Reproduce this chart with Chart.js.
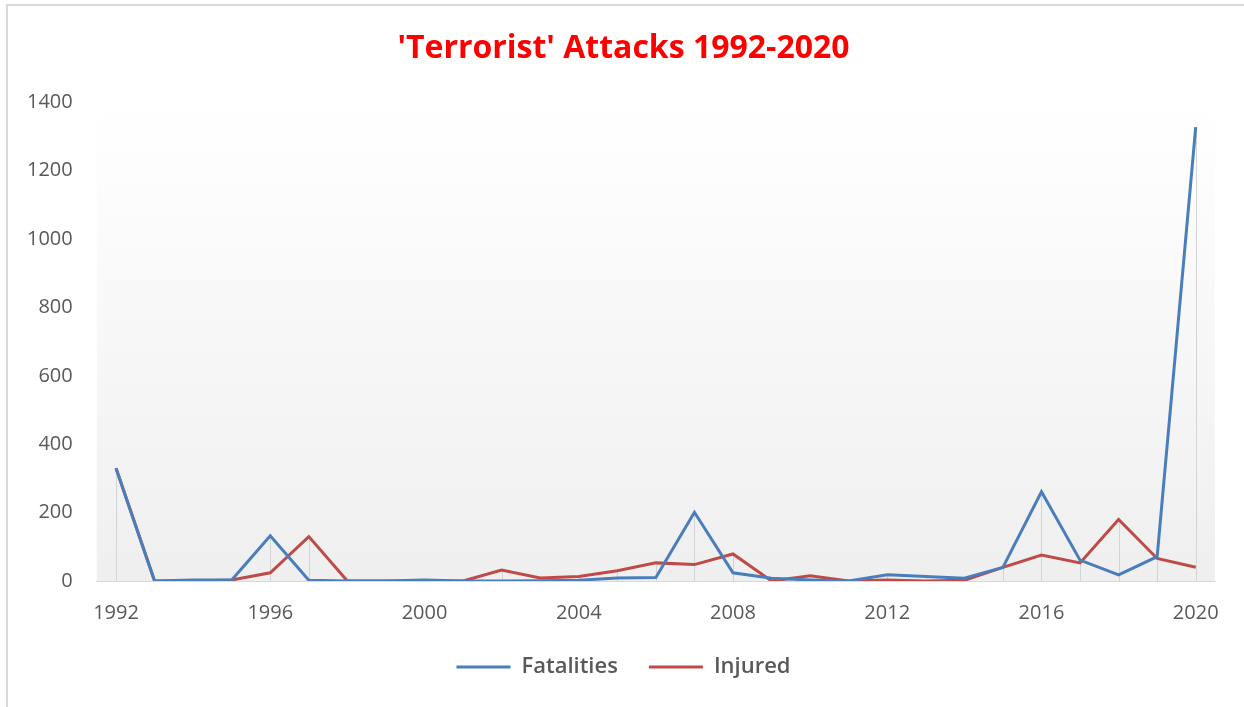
<!DOCTYPE html>
<html>
<head>
<meta charset="utf-8">
<script src="https://cdn.jsdelivr.net/npm/chart.js@4/dist/chart.umd.min.js"></script>
<style>
  html, body { margin: 0; padding: 0; background: #fff; }
  #wrap { position: relative; width: 1244px; height: 707px; overflow: hidden; }
  #frame { position: absolute; left: 6px; top: 4px; width: 1300px; height: 800px;
           border-left: 2px solid #d9d9d9; border-top: 2px solid #d9d9d9; pointer-events: none; }
  canvas { position: absolute; left: 0; top: 0; }
</style>
</head>
<body>
<div id="wrap">
  <canvas id="myChart" width="1244" height="707"></canvas>
  <div id="frame"></div>
</div>
<script>
const years = [1992, 1993, 1994, 1995, 1996, 1997, 1998, 1999, 2000, 2001,
               2002, 2003, 2004, 2005, 2006, 2007, 2008, 2009, 2010, 2011,
               2012, 2013, 2014, 2015, 2016, 2017, 2018, 2019, 2020]
const fatalities = [330, 0, 3, 3, 132, 2, 0, 0, 3, 0,
                    0, 1, 2, 9, 10, 201, 24, 8, 3, 0,
                    18, 13, 8, 40, 261, 61, 18, 71, 1328]
const injured = [330, 0, 0, 3, 24, 130, 0, 0, 0, 0,
                 32, 9, 13, 30, 53, 48, 79, 0, 15, 0,
                 3, 0, 2, 40, 76, 53, 180, 66, 40]
const yTicks = [0, 200, 400, 600, 800, 1000, 1200, 1400]
const shownYears = [1992, 1996, 2000, 2004, 2008, 2012, 2016, 2020]

// plot area gradient + drop lines from the highest point down to the axis
const plotBackground = {
  id: 'plotBackground',
  beforeDraw(chart) {
    const {ctx, chartArea} = chart
    const g = ctx.createLinearGradient(0, chartArea.top, 0, chartArea.bottom)
    g.addColorStop(0, '#ffffff')
    g.addColorStop(1, '#efefef')
    ctx.save()
    ctx.fillStyle = g
    ctx.fillRect(chartArea.left, chartArea.top, chartArea.width, chartArea.height)
    ctx.restore()
  },
  beforeDatasetsDraw(chart) {
    const {ctx, chartArea} = chart
    const metas = chart.getSortedVisibleDatasetMetas()
    ctx.save()
    ctx.strokeStyle = '#d4d4d4'
    ctx.lineWidth = 1
    years.forEach((y, i) => {
      let top = chartArea.bottom
      metas.forEach(m => { top = Math.min(top, m.data[i].y) })
      if (top < chartArea.bottom - 1) {
        const x = Math.round(metas[0].data[i].x) + 0.5
        ctx.beginPath()
        ctx.moveTo(x, top)
        ctx.lineTo(x, chartArea.bottom)
        ctx.stroke()
      }
    })
    ctx.restore()
  }
}

const ctx = document.getElementById('myChart')
new Chart(ctx, {
  type: 'line',
  data: {
    labels: years,
    datasets: [{
      label: 'Fatalities',
      data: fatalities,
      borderColor: '#4a7ebb',
      backgroundColor: '#4a7ebb',
      borderWidth: 3,
      pointRadius: 0,
      tension: 0
    }, {
      label: 'Injured',
      data: injured,
      borderColor: '#be4b48',
      backgroundColor: '#be4b48',
      borderWidth: 3,
      pointRadius: 0,
      tension: 0
    }]
  },
  options: {
    responsive: false,
    animation: false,
    layout: { padding: { left: 3, right: 0, top: 0, bottom: 19 } },
    plugins: {
      title: {
        display: true,
        text: "'Terrorist' Attacks 1992-2020",
        color: '#ff0000',
        font: { family: 'Open Sans', size: 32, weight: 'bold' },
        padding: { top: 30, bottom: 34 }
      },
      legend: {
        position: 'bottom',
        labels: {
          boxWidth: 54,
          boxHeight: 0,
          padding: 31,
          color: '#595959',
          font: { family: 'Open Sans', size: 22, weight: '600' }
        }
      },
      tooltip: { enabled: false }
    },
    scales: {
      x: {
        offset: true,
        grid: { display: true, drawOnChartArea: false, drawTicks: true, tickLength: 20, tickColor: 'rgba(0,0,0,0)' },
        border: { display: true, color: '#d9d9d9', width: 1 },
        ticks: {
          autoSkip: false,
          maxRotation: 0,
          padding: 0,
          color: '#595959',
          font: { family: 'Open Sans', size: 20 },
          callback: function (v, i) {
            return shownYears.includes(years[i]) ? String(years[i]) : ''
          }
        }
      },
      y: {
        min: 0,
        max: 1400,
        afterBuildTicks: axis => { axis.ticks = yTicks.map(v => ({ value: v })) },
        grid: { display: false, drawTicks: false },
        border: { display: false },
        ticks: {
          padding: 24,
          color: '#595959',
          font: { family: 'Open Sans', size: 20 },
          callback: v => String(v)
        }
      },
      // empty right-hand strip so that title and legend centre on the whole picture
      y2: {
        position: 'right',
        grid: { display: false },
        border: { display: false },
        ticks: { display: false },
        afterFit: s => { s.width = 29 }
      }
    }
  },
  plugins: [plotBackground]
})
</script>
</body>
</html>
